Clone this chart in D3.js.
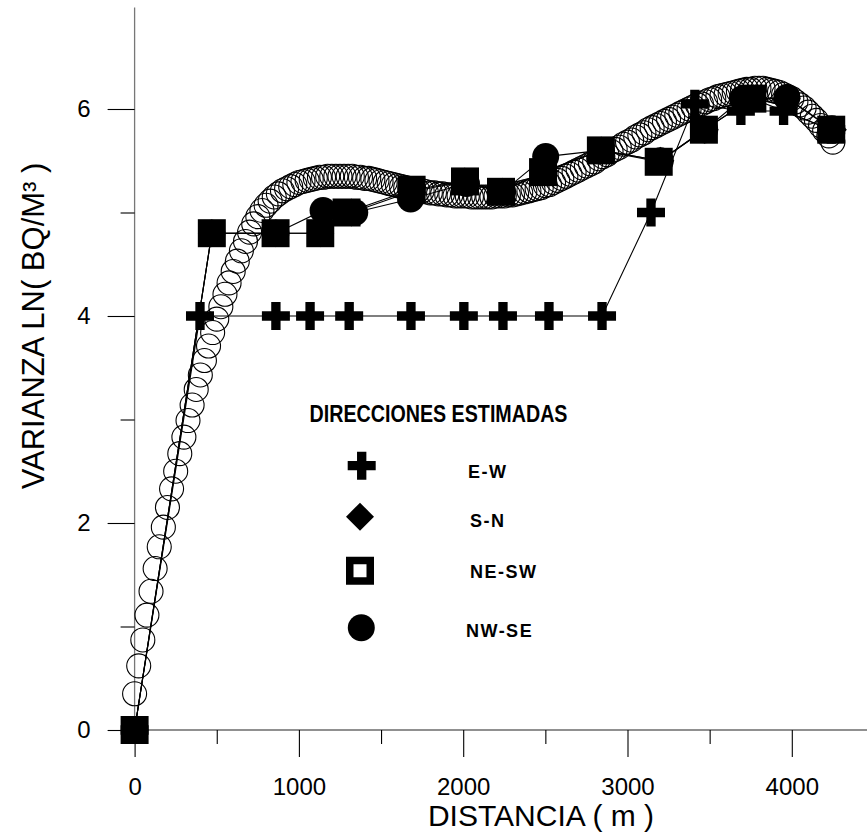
<!DOCTYPE html>
<html><head><meta charset="utf-8">
<script src="https://cdn.jsdelivr.net/npm/d3@7"></script>
<style>html,body{margin:0;padding:0;background:#fff;} svg{display:block;}</style>
</head><body>
<svg id="chart" width="867" height="834"></svg>
<script>
// ---- DATA ----
const xMajorTicks = [0, 1000, 2000, 3000, 4000];
const xMinorTicks = [500, 1500, 2500, 3500];
const yMajorTicks = [0, 2, 4, 6];
const yMinorTicks = [1, 3, 5];
const xTitle = "DISTANCIA ( m )";
const yTitle = "VARIANZA LN( BQ/M³ )";
const legendTitle = "DIRECCIONES ESTIMADAS";
const legendLabels = ["E-W", "S-N", "NE-SW", "NW-SE"];

// fitted model (open circles), [distance, variance]
const modelCurve = [
[0,0.35],[25,0.62],[50,0.87],[75,1.11],[100,1.34],[125,1.56],[150,1.77],[175,1.96],[200,2.15],[225,2.33],
[250,2.50],[275,2.67],[300,2.83],[325,2.99],[350,3.14],[375,3.29],[400,3.43],[425,3.57],[450,3.71],[475,3.84],
[500,3.97],[525,4.09],[550,4.21],[575,4.32],[600,4.43],[625,4.53],[650,4.63],[675,4.72],[700,4.81],[725,4.89],
[750,4.96],[775,5.02],[800,5.07],[825,5.11],[850,5.15],[875,5.18],[900,5.21],[925,5.23],[950,5.25],[975,5.27],
[1000,5.29],[1025,5.30],[1050,5.31],[1075,5.32],[1100,5.33],[1125,5.34],[1150,5.34],[1175,5.35],[1200,5.35],[1225,5.35],
[1250,5.35],[1275,5.35],[1300,5.35],[1325,5.35],[1350,5.34],[1375,5.34],[1400,5.33],[1425,5.33],[1450,5.32],[1475,5.31],
[1500,5.30],[1525,5.29],[1550,5.28],[1575,5.27],[1600,5.26],[1625,5.25],[1650,5.24],[1675,5.23],[1700,5.22],[1725,5.21],
[1750,5.21],[1775,5.20],[1800,5.19],[1825,5.19],[1850,5.18],[1875,5.18],[1900,5.17],[1925,5.17],[1950,5.16],[1975,5.16],
[2000,5.16],[2025,5.16],[2050,5.15],[2075,5.15],[2100,5.15],[2125,5.15],[2150,5.15],[2175,5.15],[2200,5.16],[2225,5.16],
[2250,5.16],[2275,5.17],[2300,5.17],[2325,5.18],[2350,5.19],[2375,5.20],[2400,5.21],[2425,5.22],[2450,5.23],[2475,5.24],
[2500,5.26],[2525,5.27],[2550,5.29],[2575,5.31],[2600,5.33],[2625,5.35],[2650,5.37],[2675,5.39],[2700,5.41],[2725,5.43],
[2750,5.45],[2775,5.47],[2800,5.49],[2825,5.52],[2850,5.54],[2875,5.56],[2900,5.59],[2925,5.61],[2950,5.63],[2975,5.66],
[3000,5.68],[3025,5.70],[3050,5.73],[3075,5.75],[3100,5.77],[3125,5.80],[3150,5.82],[3175,5.84],[3200,5.86],[3225,5.88],
[3250,5.90],[3275,5.92],[3300,5.94],[3325,5.96],[3350,5.98],[3375,6.00],[3400,6.02],[3425,6.04],[3450,6.05],[3475,6.07],
[3500,6.09],[3525,6.10],[3550,6.12],[3575,6.13],[3600,6.14],[3625,6.15],[3650,6.16],[3675,6.17],[3700,6.18],[3725,6.19],
[3750,6.19],[3775,6.20],[3800,6.20],[3825,6.20],[3850,6.19],[3875,6.18],[3900,6.17],[3925,6.16],[3950,6.14],[3975,6.12],
[4000,6.10],[4025,6.07],[4050,6.04],[4075,6.01],[4100,5.97],[4125,5.93],[4150,5.89],[4175,5.84],[4200,5.79],[4225,5.74],
[4250,5.68]
];

// experimental variograms per direction
const ewDist = [0, 398, 860, 1068, 1306, 1682, 2004, 2242, 2522, 2845, 3143, 3410, 3690, 3950, 4240];
const ewVar  = [0, 4, 4, 4, 4, 4, 4, 4, 4, 4, 5, 6.05, 5.98, 5.98, 5.8];
const snDist = [0, 470, 860, 1130, 1320, 1680, 2010, 2240, 2495, 2840, 3200, 3470, 3750, 3970, 4250];
const snVar  = [0, 4.8, 4.8, 4.8, 5.0, 5.2, 5.3, 5.2, 5.4, 5.6, 5.5, 5.8, 6.1, 6.1, 5.8];
const neDist = [0, 470, 858, 1130, 1290, 1686, 2011, 2230, 2486, 2838, 3190, 3465, 3760, 4240];
const neVar  = [0, 4.8, 4.8, 4.8, 5.0, 5.22, 5.3, 5.2, 5.39, 5.6, 5.49, 5.8, 6.1, 5.8];
const nwDist = [0, 470, 860, 1147, 1340, 1680, 2020, 2240, 2502, 2840, 3200, 3470, 3700, 3970, 4243];
const nwVar  = [0, 4.8, 4.8, 5.02, 5.0, 5.13, 5.28, 5.2, 5.54, 5.6, 5.5, 5.8, 6.1, 6.11, 5.81];

// ---- CHART ----
const svg = d3.select("#chart");
const x = d3.scaleLinear().domain([0, 4000]).range([134.6, 791.8]);
const y = d3.scaleLinear().domain([0, 6]).range([730, 109]);
const FONT = "'Liberation Sans', Arial, sans-serif";
const NARROW = 0.82;

// axes lines
svg.append("line").attr("x1", x(0)).attr("x2", x(0)).attr("y1", y(6.98)).attr("y2", y(0))
  .attr("stroke", "#777").attr("stroke-width", 1.3);
svg.append("line").attr("x1", x(0)).attr("x2", 867).attr("y1", y(0)).attr("y2", y(0))
  .attr("stroke", "#222").attr("stroke-width", 1.2);

function styleAxis(g) {
  g.select(".domain").remove();
  g.selectAll(".tick line").attr("stroke", "#000").attr("stroke-width", 1.1);
  g.selectAll(".tick text").attr("fill", "#000").style("font-family", FONT).style("font-size", "24px");
}
svg.append("g").attr("transform", `translate(0,${y(0)})`)
  .call(d3.axisBottom(x).tickValues(xMajorTicks).tickSize(27).tickPadding(21).tickFormat(d3.format("d")))
  .call(styleAxis);
svg.append("g").attr("transform", `translate(0,${y(0)})`)
  .call(d3.axisBottom(x).tickValues(xMinorTicks).tickSize(14).tickFormat(""))
  .call(styleAxis);
svg.append("g").attr("transform", `translate(${x(0)},0)`)
  .call(d3.axisLeft(y).tickValues(yMajorTicks).tickSize(27).tickPadding(17).tickFormat(d3.format("d")))
  .call(styleAxis);
svg.append("g").attr("transform", `translate(${x(0)},0)`)
  .call(d3.axisLeft(y).tickValues(yMinorTicks).tickSize(14).tickFormat(""))
  .call(styleAxis);

// axis titles
svg.append("text").attr("x", 541).attr("y", 826).attr("text-anchor", "middle")
  .style("font-family", FONT).style("font-size", "30px").attr("fill", "#000").text(xTitle);
svg.append("text").attr("transform", "translate(44,326) rotate(-90)").attr("text-anchor", "middle")
  .style("font-family", FONT).style("font-size", "31px").attr("fill", "#000").text(yTitle);

// model circles
svg.append("g").selectAll("circle").data(modelCurve).join("circle")
  .attr("cx", d => x(d[0])).attr("cy", d => y(d[1])).attr("r", 12)
  .attr("fill", "none").attr("stroke", "#000").attr("stroke-width", 1.1);

// series
const series = [
  {dist: ewDist, v: ewVar, sym: "cross"},
  {dist: snDist, v: snVar, sym: "diamond"},
  {dist: neDist, v: neVar, sym: "square"},
  {dist: nwDist, v: nwVar, sym: "circle"}
];
const line = d3.line().x(d => x(d[0])).y(d => y(d[1]));
series.forEach(s => {
  const pts = s.dist.map((d, i) => [d, s.v[i]]);
  svg.append("path").datum(pts).attr("d", line).attr("fill", "none")
    .attr("stroke", "#000").attr("stroke-width", 1.1);
});
function symbolPath(kind) {
  if (kind === "cross") return d3.symbol().type(d3.symbolCross).size(5 * Math.pow(28 / 3, 2))();
  if (kind === "diamond") return d3.symbol().type(d3.symbolSquare).size(392)();
  if (kind === "square") return d3.symbol().type(d3.symbolSquare).size(784)();
  return d3.symbol().type(d3.symbolCircle).size(Math.PI * 13.5 * 13.5)();
}
series.forEach(s => {
  const pts = s.dist.map((d, i) => [d, s.v[i]]);
  svg.append("g").selectAll("path").data(pts).join("path")
    .attr("d", symbolPath(s.sym))
    .attr("transform", d => `translate(${x(d[0])},${y(d[1])})` + (s.sym === "diamond" ? " rotate(45)" : ""))
    .attr("fill", "#000");
});

// legend
svg.append("g").attr("transform", `translate(438.5,422) scale(${NARROW},1)`)
  .append("text").attr("text-anchor", "middle").style("font-family", FONT).style("font-size", "24px")
  .style("font-weight", "bold").attr("fill", "#000").text(legendTitle);
const legendSym = [[361.7, 465.7], [360, 516.7], [360, 570.7], [361.3, 627.7]];
const legendText = [[468, 478], [470, 527], [470, 578], [466, 637]];
const lg = svg.append("g");
legendLabels.forEach((lab, i) => {
  const kind = series[i].sym;
  if (kind === "square") {
    lg.append("path").attr("d", d3.symbol().type(d3.symbolSquare).size(20.5 * 20.5)())
      .attr("transform", `translate(${legendSym[i][0]},${legendSym[i][1]})`)
      .attr("fill", "#fff").attr("stroke", "#000").attr("stroke-width", 7.5);
  } else {
    lg.append("path").attr("d", symbolPath(kind))
      .attr("transform", `translate(${legendSym[i][0]},${legendSym[i][1]})` + (kind === "diamond" ? " rotate(45)" : ""))
      .attr("fill", "#000");
  }
  lg.append("text").attr("x", legendText[i][0]).attr("y", legendText[i][1])
    .style("font-family", FONT).style("font-size", "18px").style("font-weight", "bold")
    .style("letter-spacing", "1.5px").attr("fill", "#000").text(lab);
});
</script>
</body></html>
